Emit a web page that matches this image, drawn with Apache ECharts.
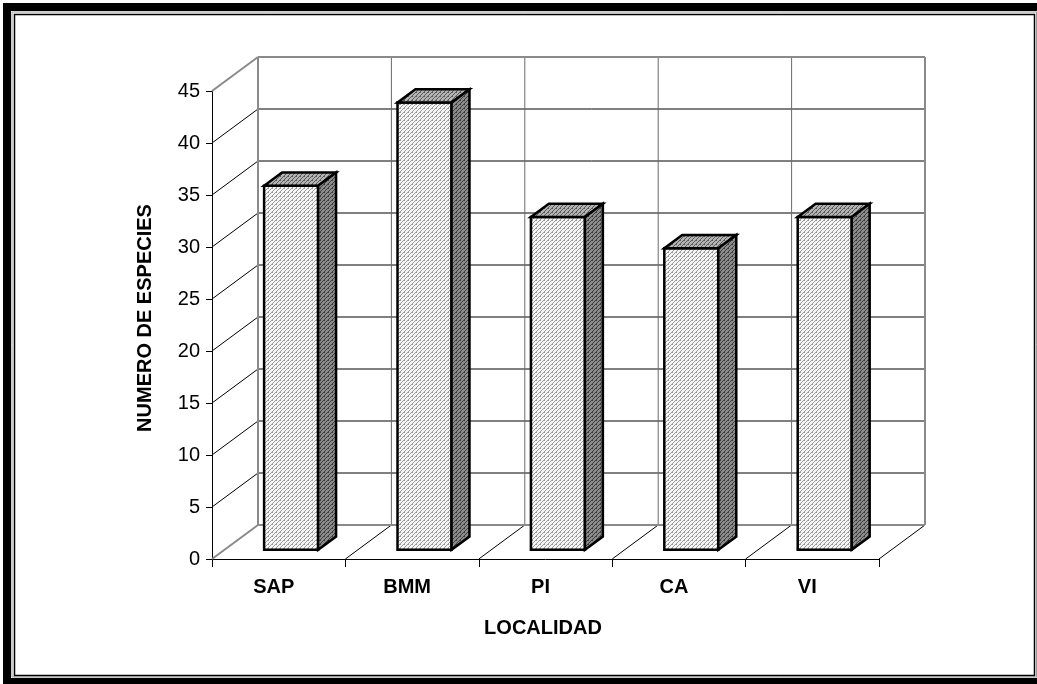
<!DOCTYPE html>
<html>
<head>
<meta charset="utf-8">
<script src="https://cdn.jsdelivr.net/npm/echarts@6/dist/echarts.min.js"></script>
<style>
  html, body { margin: 0; padding: 0; background: #fff; }
  #chart { width: 1037px; height: 684px; }
</style>
</head>
<body>
<div id="chart"></div>
<script>
// Species count per locality
const categories = ['SAP', 'BMM', 'PI', 'CA', 'VI'];
const especies = [35, 43, 32, 29, 32];
const yTicks = [0, 5, 10, 15, 20, 25, 30, 35, 40, 45];
const yAxisTitle = 'NUMERO DE ESPECIES';
const xAxisTitle = 'LOCALIDAD';

// Oblique projection of the depth direction, in pixels
const DEPTH_DX = 46;
const DEPTH_DY = -34;
// Bars occupy this slice of the depth, and this share of a category band
const BAR_FRONT = 0.27;
const BAR_BACK = 0.66;
const BAR_WIDTH = 0.405;

const FONT = '"Liberation Sans", Arial, sans-serif';
const WALL_EDGE = '#8a8a8a';

// Small hatched tiles used to fill the bar faces
function hatch(bg, fg, size) {
  const c = document.createElement('canvas');
  c.width = size; c.height = size;
  const g = c.getContext('2d');
  g.fillStyle = bg;
  g.fillRect(0, 0, size, size);
  g.fillStyle = fg;
  for (let i = 0; i < size; i++) {
    g.fillRect(i, size - 1 - i, 1, 1);
  }
  g.fillRect(0, 0, 1, 1);
  return { image: c, repeat: 'repeat' };
}
const frontFill = hatch('#f6f6f6', '#9a9a9a', 4);
const topFill = hatch('#b4b4b4', '#5a5a5a', 4);
const sideFill = hatch('#8c8c8c', '#3c3c3c', 4);

// Back wall, side wall and floor of the 3-D box
function renderWalls(params, api) {
  const band = api.size([1, 0])[0];
  const n = categories.length;
  const L = api.coord([0, 0])[0] - band / 2;
  const R = L + band * n;
  const y0 = api.coord([0, yTicks[0]])[1];
  const yTop = api.coord([0, yTicks[yTicks.length - 1]])[1];
  const children = [];
  const line = (x1, y1, x2, y2, color, w) => children.push({
    type: 'line',
    shape: { x1, y1, x2, y2 },
    style: { stroke: color, lineWidth: w }
  });

  // horizontal gridlines on the back wall and their diagonals on the side wall
  yTicks.slice(1, -1).forEach(v => {
    const y = api.coord([0, v])[1];
    line(L + DEPTH_DX, y + DEPTH_DY, R + DEPTH_DX, y + DEPTH_DY, '#000', 1);
    line(L, y, L + DEPTH_DX, y + DEPTH_DY, '#000', 1);
  });
  // category dividers on the back wall and across the floor
  for (let i = 1; i <= n; i++) {
    const x = L + band * i;
    if (i < n) {
      line(x + DEPTH_DX, y0 + DEPTH_DY, x + DEPTH_DX, yTop + DEPTH_DY, '#6a6a6a', 1);
    }
    line(x, y0, x + DEPTH_DX, y0 + DEPTH_DY, '#000', 1);
  }
  // wall outlines
  line(L, y0, L + DEPTH_DX, y0 + DEPTH_DY, WALL_EDGE, 2);
  line(L, yTop, L + DEPTH_DX, yTop + DEPTH_DY, WALL_EDGE, 2);
  line(L + DEPTH_DX, y0 + DEPTH_DY, L + DEPTH_DX, yTop + DEPTH_DY, WALL_EDGE, 2);
  line(L + DEPTH_DX, yTop + DEPTH_DY, R + DEPTH_DX, yTop + DEPTH_DY, WALL_EDGE, 2);
  line(R + DEPTH_DX, yTop + DEPTH_DY, R + DEPTH_DX, y0 + DEPTH_DY, WALL_EDGE, 2);
  line(L + DEPTH_DX, y0 + DEPTH_DY, R + DEPTH_DX, y0 + DEPTH_DY, WALL_EDGE, 2);

  return { type: 'group', children };
}

// One prism per locality
function renderBar(params, api) {
  const idx = api.value(0);
  const top = api.coord([idx, api.value(1)]);
  const base = api.coord([idx, 0]);
  const band = api.size([1, 0])[0];
  const w = band * BAR_WIDTH;
  const fx = BAR_FRONT * DEPTH_DX, fy = BAR_FRONT * DEPTH_DY;
  const dx = (BAR_BACK - BAR_FRONT) * DEPTH_DX, dy = (BAR_BACK - BAR_FRONT) * DEPTH_DY;
  const x1 = top[0] - w / 2 + fx;
  const x2 = top[0] + w / 2 + fx;
  const yt = top[1] + fy;
  const yb = base[1] + fy;
  const edge = { stroke: '#000', lineWidth: 2.5, lineJoin: 'miter' };
  return {
    type: 'group',
    children: [
      {
        type: 'polygon',
        shape: { points: [[x1, yt], [x2, yt], [x2, yb], [x1, yb]] },
        style: Object.assign({ fill: frontFill }, edge)
      },
      {
        type: 'polygon',
        shape: { points: [[x1, yt], [x2, yt], [x2 + dx, yt + dy], [x1 + dx, yt + dy]] },
        style: Object.assign({ fill: topFill }, edge)
      },
      {
        type: 'polygon',
        shape: { points: [[x2, yt], [x2 + dx, yt + dy], [x2 + dx, yb + dy], [x2, yb]] },
        style: Object.assign({ fill: sideFill }, edge)
      }
    ]
  };
}

const chart = echarts.init(document.getElementById('chart'), null, { renderer: 'canvas' });

chart.setOption({
  animation: false,
  backgroundColor: '#fff',
  textStyle: { fontFamily: FONT, color: '#000' },
  grid: { left: 212, top: 91, right: 158, bottom: 125, containLabel: false },
  xAxis: {
    type: 'category',
    data: categories,
    boundaryGap: true,
    axisLine: { show: true, lineStyle: { color: '#000', width: 1 } },
    axisTick: { show: true, length: 8, interval: 0, lineStyle: { color: '#000', width: 1 } },
    axisLabel: {
      interval: 0, margin: 18, fontFamily: FONT, fontSize: 20, fontWeight: 'bold',
      color: '#000', padding: [0, 10, 0, 0]
    },
    splitLine: { show: false },
    name: xAxisTitle,
    nameLocation: 'middle',
    nameGap: 59,
    nameTextStyle: {
      fontFamily: FONT, fontSize: 20, fontWeight: 'bold', color: '#000', padding: [0, 5, 0, 0]
    }
  },
  yAxis: {
    type: 'value',
    min: yTicks[0],
    max: yTicks[yTicks.length - 1],
    interval: 5,
    axisLine: { show: true, lineStyle: { color: '#000', width: 1 } },
    axisTick: { show: true, length: 6, lineStyle: { color: '#000', width: 1 } },
    axisLabel: { margin: 12, fontFamily: FONT, fontSize: 20, color: '#000' },
    splitLine: { show: false },
    name: yAxisTitle,
    nameLocation: 'middle',
    nameGap: 57,
    nameRotate: 90,
    nameTextStyle: {
      fontFamily: FONT, fontSize: 20, fontWeight: 'bold', color: '#000', padding: [0, 0, 0, 14]
    }
  },
  graphic: [
    { type: 'rect', shape: { x: 7, y: 7, width: 1034, height: 675 },
      style: { fill: 'none', stroke: '#000', lineWidth: 8 }, silent: true },
    { type: 'rect', shape: { x: 12, y: 12, width: 1024.5, height: 665 },
      style: { fill: 'none', stroke: '#9a9a9a', lineWidth: 1 }, silent: true },
    { type: 'rect', shape: { x: 14.5, y: 14.5, width: 1020, height: 661 },
      style: { fill: 'none', stroke: '#000', lineWidth: 1.5 }, silent: true }
  ],
  series: [
    {
      type: 'custom',
      name: 'walls',
      clip: false,
      silent: true,
      z: 1,
      renderItem: renderWalls,
      data: [[0, 0]]
    },
    {
      type: 'custom',
      name: 'especies',
      clip: false,
      z: 3,
      renderItem: renderBar,
      encode: { x: 0, y: 1 },
      data: especies.map((v, i) => [i, v])
    }
  ]
});
</script>
</body>
</html>
